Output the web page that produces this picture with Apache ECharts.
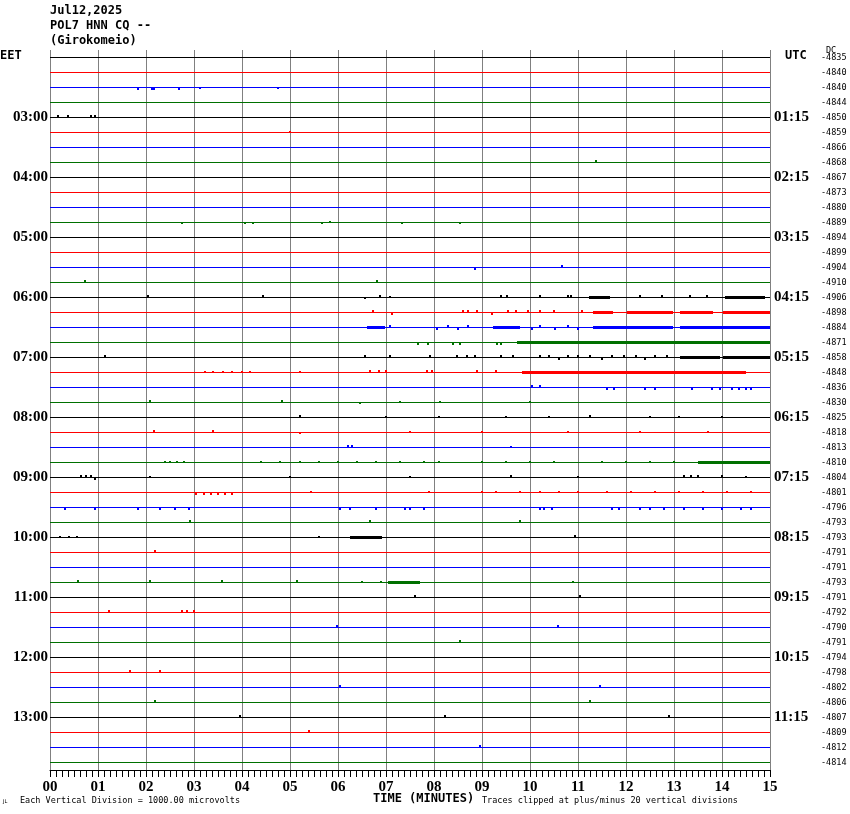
<!DOCTYPE html>
<html><head><meta charset="utf-8">
<script src="https://cdn.jsdelivr.net/npm/echarts@6/dist/echarts.min.js"></script>
<style>html,body{margin:0;padding:0;background:#fff}#c{width:850px;height:814px}</style>
</head><body><div id="c"></div>
<script>
// ---- data ----
const titleLines = ['Jul12,2025', 'POL7 HNN CQ --', '(Girokomeio)'];
const xTickLabels = ['00','01','02','03','04','05','06','07','08','09','10','11','12','13','14','15'];
const hourRows = [4, 8, 12, 16, 20, 24, 28, 32, 36, 40, 44];
const eetLabels = ['03:00','04:00','05:00','06:00','07:00','08:00','09:00','10:00','11:00','12:00','13:00'];
const utcLabels = ['01:15','02:15','03:15','04:15','05:15','06:15','07:15','08:15','09:15','10:15','11:15'];
const dcValues = [-4835,-4840,-4840,-4844,-4850,-4859,-4866,-4868,-4867,-4873,-4880,-4889,
  -4894,-4899,-4904,-4910,-4906,-4898,-4884,-4871,-4858,-4848,-4836,-4830,
  -4825,-4818,-4813,-4810,-4804,-4801,-4796,-4793,-4793,-4791,-4791,-4793,
  -4791,-4792,-4790,-4791,-4794,-4798,-4802,-4806,-4807,-4809,-4812,-4814];
// isolated spikes per trace: [minute, deflection in units of trace spacing]
const spikes = [
  [], [],
  [[1.83,-0.1],[2.13,-0.1],[2.17,-0.1],[2.69,-0.1],[3.13,-0.08],[4.75,-0.08]],
  [],
  [[0.17,0.1],[0.38,0.1],[0.85,0.1],[0.94,0.1]],
  [[5.0,0.08]],
  [],
  [[11.38,0.1]],
  [], [], [],
  [[2.75,-0.08],[4.06,-0.08],[4.23,-0.08],[5.67,-0.08],[5.83,0.08],[7.33,-0.08],[8.54,-0.08]],
  [], [],
  [[8.85,-0.1],[10.67,0.1]],
  [[0.73,0.1],[6.81,0.1]],
  [[2.04,0.1],[4.44,0.1],[6.56,-0.08],[6.88,0.1],[7.08,0.08],[9.4,0.1],[9.52,0.1],[10.21,0.1],[10.79,0.1],[10.85,0.1],[12.29,0.1],[12.75,0.1],[13.33,0.1],[13.69,0.1]],
  [[6.73,0.1],[7.13,-0.1],[8.6,0.1],[8.7,0.1],[8.9,0.1],[9.2,-0.1],[9.55,0.1],[9.7,0.1],[9.95,0.1],[10.2,0.1],[10.5,0.1],[11.08,0.1]],
  [[7.08,0.1],[8.06,-0.1],[8.29,0.1],[8.5,-0.1],[8.71,0.1],[10.04,-0.1],[10.2,0.1],[10.52,-0.1],[10.8,0.1],[11.0,-0.1]],
  [[7.67,-0.1],[7.88,-0.1],[8.4,-0.1],[8.54,-0.1],[9.31,-0.1],[9.4,-0.1]],
  [[1.15,0.1],[6.56,0.1],[7.08,0.1],[7.92,0.1],[8.48,0.1],[8.69,0.1],[8.85,0.1],[9.4,0.1],[9.65,0.1],[10.21,0.1],[10.4,0.1],[10.6,-0.1],[10.8,0.1],[11.0,0.1],[11.25,0.1],[11.5,-0.1],[11.7,0.1],[11.95,0.1],[12.2,0.1],[12.4,-0.1],[12.6,0.1],[12.85,0.1]],
  [[3.23,0.08],[3.4,0.08],[3.6,0.08],[3.8,0.08],[4.0,0.08],[4.17,0.08],[5.2,0.08],[6.67,0.1],[6.85,0.1],[7.0,0.1],[7.85,0.1],[7.95,0.1],[8.9,0.1],[9.3,0.1]],
  [[10.04,0.1],[10.21,0.1],[11.6,-0.1],[11.75,-0.1],[12.4,-0.1],[12.6,-0.1],[13.38,-0.1],[13.8,-0.1],[13.95,-0.1],[14.2,-0.1],[14.35,-0.1],[14.5,-0.1],[14.6,-0.1]],
  [[2.08,0.1],[4.83,0.1],[6.46,-0.08],[7.29,0.08],[8.13,0.08],[10.0,0.08]],
  [[5.2,0.1],[7.0,0.08],[8.1,0.08],[9.5,0.08],[10.4,0.08],[11.25,0.1],[12.5,0.08],[13.1,0.08],[14.0,0.08]],
  [[2.17,0.1],[3.4,0.1],[5.2,-0.08],[7.5,0.08],[9.0,0.08],[10.8,0.08],[12.3,0.08],[13.7,0.08]],
  [[6.21,0.12],[6.3,0.12],[9.6,0.08]],
  [[2.4,0.08],[2.5,0.08],[2.65,0.08],[2.8,0.08],[4.4,0.08],[4.8,0.08],[5.2,0.08],[5.6,0.08],[6.0,0.08],[6.4,0.08],[6.8,0.08],[7.3,0.08],[7.8,0.08],[8.1,0.08],[9.0,0.08],[9.5,0.08],[10.0,0.08],[10.5,0.08],[11.5,0.08],[12.0,0.08],[12.5,0.08],[13.0,0.08]],
  [[0.65,0.1],[0.75,0.1],[0.85,0.1],[0.94,-0.1],[2.08,0.08],[5.0,0.08],[7.5,0.08],[9.6,0.1],[11.0,0.08],[13.2,0.1],[13.35,0.1],[13.5,0.1],[14.0,0.1],[14.5,0.08]],
  [[3.05,-0.1],[3.2,-0.1],[3.35,-0.1],[3.5,-0.1],[3.65,-0.1],[3.8,-0.1],[5.44,0.08],[7.9,0.08],[9.0,0.08],[9.3,0.08],[9.8,0.08],[10.2,0.08],[10.6,0.08],[11.0,0.08],[11.6,0.08],[12.1,0.08],[12.6,0.08],[13.1,0.08],[13.6,0.08],[14.1,0.08],[14.6,0.08]],
  [[0.31,-0.1],[0.94,-0.1],[1.83,-0.1],[2.3,-0.1],[2.6,-0.1],[2.9,-0.1],[6.04,-0.1],[6.25,-0.1],[6.8,-0.1],[7.4,-0.1],[7.5,-0.1],[7.8,-0.1],[10.2,-0.1],[10.3,-0.1],[10.45,-0.1],[11.7,-0.1],[11.85,-0.1],[12.3,-0.1],[12.5,-0.1],[12.8,-0.1],[13.2,-0.1],[13.6,-0.1],[14.0,-0.1],[14.4,-0.1],[14.6,-0.1]],
  [[2.92,0.1],[6.67,0.1],[9.79,0.1]],
  [[0.21,0.08],[0.4,0.08],[0.56,0.08],[5.6,0.08],[10.94,0.1]],
  [[2.19,0.1]],
  [],
  [[0.58,0.1],[2.08,0.1],[3.58,0.1],[5.15,0.1],[6.5,0.08],[6.9,0.08],[10.9,0.08]],
  [[7.6,0.1],[11.04,0.1]],
  [[1.23,0.1],[2.75,0.1],[2.85,0.1],[3.0,0.1]],
  [[5.98,0.1],[10.58,0.1]],
  [[8.54,0.1]],
  [],
  [[1.67,0.1],[2.29,0.1]],
  [[6.04,0.12],[11.46,0.1]],
  [[2.19,0.1],[11.25,0.12]],
  [[3.96,0.1],[8.23,0.1],[12.9,0.1]],
  [[5.4,0.1]],
  [[8.96,0.12]],
  []
];
// dense bursts: [trace, startMinute, endMinute, half-amplitude]
const bursts = [
  [16, 11.23, 11.67, 0.06], [16, 14.06, 14.9, 0.06],
  [17, 11.31, 11.73, 0.06], [17, 12.02, 12.98, 0.06], [17, 13.13, 13.81, 0.06], [17, 14.02, 15.0, 0.06],
  [18, 6.6, 6.98, 0.06], [18, 9.23, 9.79, 0.05], [18, 11.31, 12.98, 0.06], [18, 13.13, 15.0, 0.07],
  [19, 9.73, 11.9, 0.05], [19, 11.9, 15.0, 0.09],
  [20, 13.13, 13.96, 0.05], [20, 14.02, 15.0, 0.07],
  [21, 9.83, 14.5, 0.05],
  [27, 13.5, 15.0, 0.05],
  [32, 6.25, 6.92, 0.08],
  [35, 7.04, 7.71, 0.05]
];

// ---- chart ----
const traceColors = ['#000000', '#ff0000', '#0000ff', '#007000'];
const allRows = dcValues.map((v, i) => i);
const series = [];
spikes.forEach((sp, i) => {
  series.push({
    type: 'line', data: [[0, i], [15, i]], symbol: 'none', silent: true, animation: false,
    lineStyle: { width: 1, color: traceColors[i % 4] }, z: 3
  });
});
const spikeData = [];
spikes.forEach((sp, i) => sp.forEach(([t, a]) => spikeData.push([i, t, a])));
series.push({
  type: 'custom', silent: true, animation: false, z: 4,
  data: spikeData,
  renderItem: (params, api) => {
    const row = api.value(0), t = api.value(1), a = api.value(2);
    const base = api.coord([t, row]);
    const tip = api.coord([t, row - a]);
    const x = Math.round(base[0]) - 1;
    const by = Math.floor(base[1]);
    const h = Math.max(1, Math.round(Math.abs(tip[1] - base[1])));
    const y = a > 0 ? by - h : by + 1;
    return { type: 'rect', shape: { x: x, y: y, width: 2, height: h }, style: { fill: traceColors[row % 4] } };
  }
});
series.push({
  type: 'custom', silent: true, animation: false, z: 4,
  data: bursts,
  renderItem: (params, api) => {
    const row = api.value(0), s = api.value(1), e = api.value(2), a = api.value(3);
    const p1 = api.coord([s, row]);
    const p2 = api.coord([e, row]);
    const tip = api.coord([s, row - a]);
    const half = Math.max(1, Math.round(Math.abs(tip[1] - p1[1])));
    const by = Math.floor(p1[1]);
    const x0 = Math.round(p1[0]), x1 = Math.round(p2[0]);
    return {
      type: 'rect',
      shape: { x: x0, y: by - half, width: x1 - x0, height: 2 * half + 1 },
      style: { fill: traceColors[row % 4] }
    };
  }
});

const boldMono = { fontFamily: 'DejaVu Sans Mono', fontWeight: 'bold', fontSize: 12, fill: '#000' };
const smallMono = { fontFamily: 'DejaVu Sans Mono', fontSize: 8.5, fill: '#000' };
const graphics = [];
titleLines.forEach((t, k) => graphics.push({ type: 'text', left: 50, top: 5 + 15 * k, style: Object.assign({ text: t }, boldMono) }));
graphics.push({ type: 'text', left: 0, top: 50, style: Object.assign({ text: 'EET' }, boldMono) });
graphics.push({ type: 'text', left: 785, top: 50, style: Object.assign({ text: 'UTC' }, boldMono) });
graphics.push({ type: 'text', left: 826, top: 46, style: Object.assign({ text: 'DC' }, smallMono) });
graphics.push({ type: 'text', left: 373, top: 793, style: Object.assign({ text: 'TIME (MINUTES)' }, boldMono) });
graphics.push({ type: 'text', left: 20, top: 796, style: Object.assign({ text: 'Each Vertical Division = 1000.00 microvolts' }, smallMono) });
graphics.push({ type: 'text', left: 482, top: 796, style: Object.assign({ text: 'Traces clipped at plus/minus 20 vertical divisions' }, smallMono) });
graphics.push({ type: 'text', left: 3, top: 799, style: { text: 'JL', fontFamily: 'DejaVu Sans', fontSize: 5, fill: '#000' } });

const hourFont = { fontFamily: 'Liberation Serif', fontWeight: 'bold', fontSize: 15, color: '#000' };
const chart = echarts.init(document.getElementById('c'), null, { renderer: 'canvas' });
chart.setOption({
  backgroundColor: '#ffffff',
  animation: false,
  grid: { left: 50, right: 80, top: 50, bottom: 44, containLabel: false },
  xAxis: {
    type: 'value', min: 0, max: 15, interval: 1, position: 'bottom',
    axisLine: { show: true, onZero: false, lineStyle: { color: '#000', width: 1 } },
    axisTick: { show: true, length: 7, lineStyle: { color: '#000' } },
    minorTick: { show: true, splitNumber: 8, length: 7, lineStyle: { color: '#000' } },
    splitLine: { show: true, lineStyle: { color: '#808080', width: 1 } },
    axisLabel: Object.assign({ margin: 10, formatter: v => xTickLabels[Math.round(v)] }, hourFont)
  },
  yAxis: [
    {
      type: 'value', min: -0.5, max: 47.5, inverse: true, position: 'left',
      axisLine: { show: false }, axisTick: { show: false }, splitLine: { show: false },
      axisLabel: Object.assign({ margin: 2, customValues: hourRows, formatter: v => eetLabels[hourRows.indexOf(Math.round(v))] || '' }, hourFont)
    },
    {
      type: 'value', min: -0.5, max: 47.5, inverse: true, position: 'right',
      axisLine: { show: false }, axisTick: { show: false }, splitLine: { show: false },
      axisLabel: Object.assign({ margin: 4, customValues: hourRows, formatter: v => utcLabels[hourRows.indexOf(Math.round(v))] || '' }, hourFont)
    },
    {
      type: 'value', min: -0.5, max: 47.5, inverse: true, position: 'right', offset: 0,
      axisLine: { show: false }, axisTick: { show: false }, splitLine: { show: false },
      axisLabel: { margin: 51, customValues: allRows, formatter: v => String(dcValues[Math.round(v)]), fontFamily: 'DejaVu Sans Mono', fontSize: 8.5, color: '#000' }
    }
  ],
  graphic: graphics,
  series: series
});
</script></body></html>
